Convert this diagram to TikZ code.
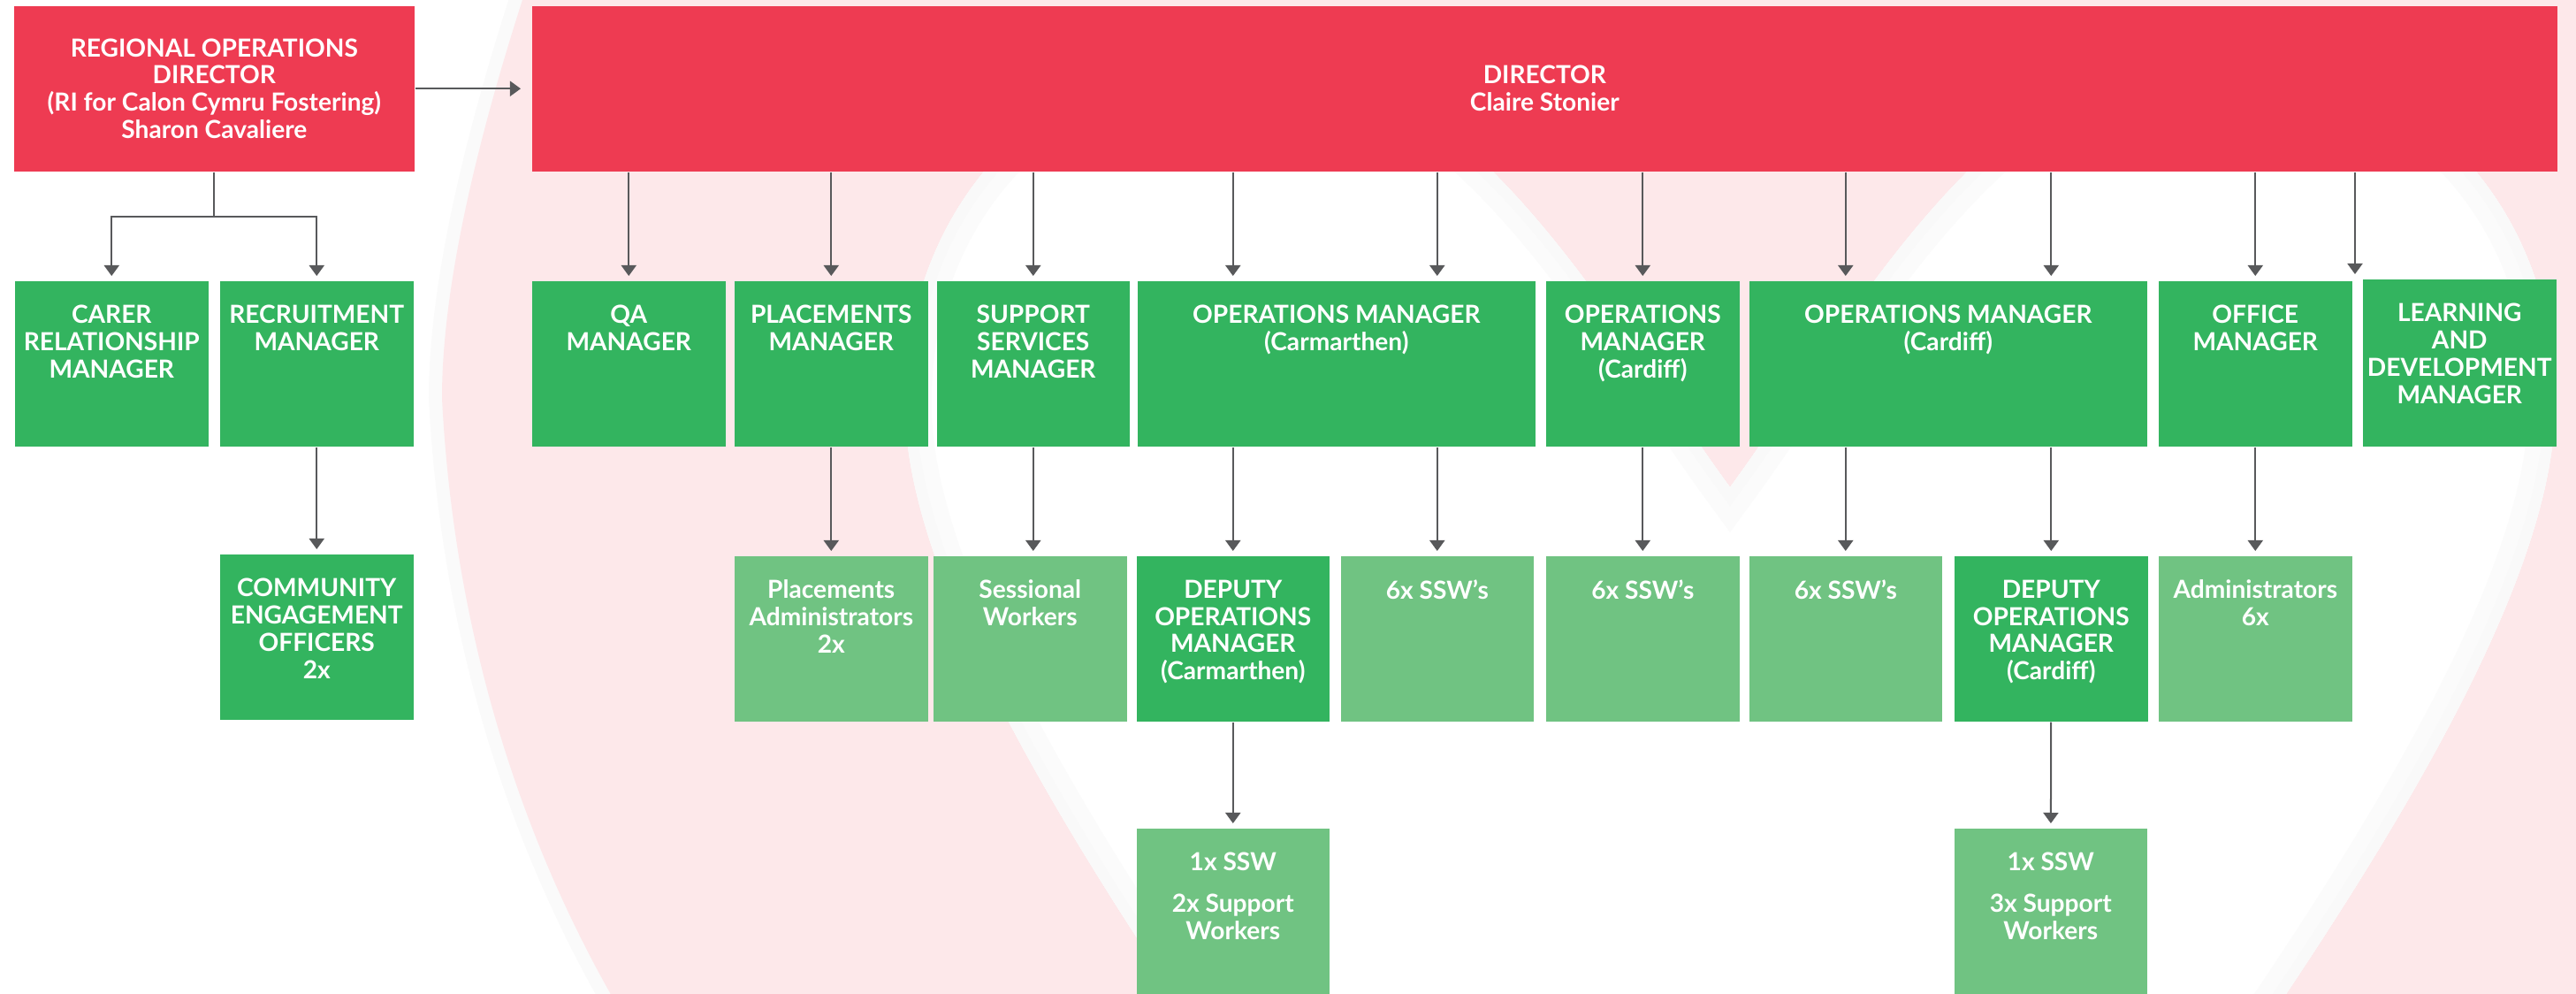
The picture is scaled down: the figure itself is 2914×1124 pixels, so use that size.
\documentclass[tikz,border=0pt]{standalone}
\usepackage{fontspec}
\setmainfont{Lato}
\usetikzlibrary{arrows.meta, positioning}

\definecolor{ccred}{HTML}{EE3B52}
\definecolor{ccgreen}{HTML}{33B45F}
\definecolor{cclight}{HTML}{70C382}
\definecolor{ccpink}{HTML}{FDE8EA}
\definecolor{ccgrey}{HTML}{58595B}

\newcommand{\orgfont}{\fontsize{8}{8.8}\selectfont\bfseries}

\tikzset{
  headbox/.style = {rectangle, fill=ccred, text=white, inner sep=0, anchor=north west,
    minimum height=1.87cm, align=center, font=\orgfont},
  rolebox/.style = {rectangle, fill=ccgreen, inner sep=0, anchor=north west,
    minimum width=2.19cm, minimum height=1.87cm},
  widebox/.style = {rolebox, minimum width=4.50cm},
  staffbox/.style = {rolebox, fill=cclight},
  roletext/.style = {anchor=north, yshift=-0.27cm, align=center, text=white, inner sep=0, font=\orgfont},
  link/.style = {draw=ccgrey, line width=0.02cm},
  conn/.style = {link, -{Triangle[width=0.17cm, length=0.12cm]}, shorten >=0.05cm},
  innerheart/.style = {insert path={(1957,551) .. controls (2090,370) and (2250,60) .. (2500,60)
    .. controls (2750,60) and (2890,250) .. (2890,450) .. controls (2900,800) and (2300,1500) .. (1957,2000)
    .. controls (1614,1500) and (1014,800) .. (1024,450) .. controls (1024,250) and (1164,60) .. (1414,60)
    .. controls (1664,60) and (1824,370) .. (1957,551) -- cycle}},
  outerheart/.style = {insert path={(700,-300) .. controls (600,-50) and (500,250) .. (500,450)
    .. controls (510,650) and (560,900) .. (700,1140) -- (700,1300) -- (3214,1300) -- (3214,1140)
    .. controls (3354,900) and (3404,650) .. (3414,450) .. controls (3414,250) and (3314,-50) .. (3214,-300) -- cycle}}
}

\begin{document}
\begin{tikzpicture}[x=0.01cm, y=-0.01cm]

  \useasboundingbox (0,0) rectangle (2914,1124);

  % Heart in the background
  \begin{scope}
    \clip (0,0) rectangle (2914,1124);
    \draw[black!2, line width=0.3cm] [outerheart];
    \fill[ccpink] [outerheart];
    \fill[white] [innerheart];
    \begin{scope}
      \clip [innerheart];
      \draw[black!1.5, line width=0.6cm] [innerheart];
      \draw[black!2.5, line width=0.25cm] [innerheart];
    \end{scope}
  \end{scope}

  % Directors
  \node[headbox, minimum width=4.53cm] (rod) at (15,6) {REGIONAL OPERATIONS\\DIRECTOR\\(RI for Calon Cymru Fostering)\\Sharon Cavaliere};
  \node[headbox, minimum width=22.90cm] (dir) at (601,6) {DIRECTOR\\Claire Stonier};

  % Managers
  \node[rolebox, label={[roletext]north:{CARER\\RELATIONSHIP\\MANAGER}}] (crm) at (16,317) {};
  \node[rolebox, label={[roletext]north:{RECRUITMENT\\MANAGER}}] (rm) at (248,317) {};
  \node[rolebox, label={[roletext]north:{QA\\MANAGER}}] (qa) at (601,317) {};
  \node[rolebox, label={[roletext]north:{PLACEMENTS\\MANAGER}}] (plm) at (830,317) {};
  \node[rolebox, minimum width=2.18cm, label={[roletext]north:{SUPPORT\\SERVICES\\MANAGER}}] (ssm) at (1059,317) {};
  \node[widebox, label={[roletext]north:{OPERATIONS MANAGER\\(Carmarthen)}}] (opc) at (1286,317) {};
  \node[rolebox, label={[roletext]north:{OPERATIONS\\MANAGER\\(Cardiff)}}] (opd) at (1748,317) {};
  \node[widebox, label={[roletext]north:{OPERATIONS MANAGER\\(Cardiff)}}] (opf) at (1978,317) {};
  \node[rolebox, label={[roletext]north:{OFFICE\\MANAGER}}] (ofm) at (2441,317) {};
  \node[rolebox, minimum height=1.89cm, label={[roletext]north:{LEARNING\\AND\\DEVELOPMENT\\MANAGER}}] (ldm) at (2672,315) {};

  % Teams
  \node[rolebox, label={[roletext]north:{COMMUNITY\\ENGAGEMENT\\OFFICERS\\2x}}] (ceo) at (248,626) {};
  \node[staffbox, label={[roletext]north:{Placements\\Administrators\\2x}}] (pla) at (830,628) {};
  \node[staffbox, label={[roletext]north:{Sessional\\Workers}}] (sew) at (1055,628) {};
  \node[rolebox, minimum width=2.18cm, label={[roletext]north:{DEPUTY\\OPERATIONS\\MANAGER\\(Carmarthen)}}] (dpc) at (1285,628) {};
  \node[staffbox, minimum width=2.18cm, label={[roletext]north:{6x SSW’s}}] (sw1) at (1516,628) {};
  \node[staffbox, label={[roletext]north:{6x SSW’s}}] (sw2) at (1748,628) {};
  \node[staffbox, minimum width=2.18cm, label={[roletext]north:{6x SSW’s}}] (sw3) at (1978,628) {};
  \node[rolebox, label={[roletext]north:{DEPUTY\\OPERATIONS\\MANAGER\\(Cardiff)}}] (dpf) at (2210,628) {};
  \node[staffbox, label={[roletext]north:{Administrators\\6x}}] (adm) at (2441,628) {};

  % Support workers
  \node[staffbox, minimum width=2.18cm, minimum height=2.0cm, label={[roletext]north:{1x SSW\\[0.16cm]2x Support\\Workers}}] (spc) at (1285,936) {};
  \node[staffbox, minimum width=2.18cm, minimum height=2.0cm, label={[roletext]north:{1x SSW\\[0.16cm]3x Support\\Workers}}] (spf) at (2210,936) {};

  % Lines from the regional director
  \draw[conn, shorten >=0.12cm] (rod) -- (dir);
  \coordinate (fork) at ([yshift=-0.5cm]rod.south);
  \draw[link] (rod.south) -- (fork);
  \draw[conn] (fork) -| (crm.north);
  \draw[conn] (fork) -| (rm.north);
  \draw[conn] (rm) -- (ceo);

  % Lines from the director
  \foreach \t in {qa, plm, ssm, dpc, sw1, opd, sw3, dpf, ofm}
    \draw[conn] (dir.south -| \t.north) -- (\t.north |- qa.north);
  \draw[conn] ([xshift=-0.08cm]ldm.north west |- dir.south) -- ([xshift=-0.08cm]ldm.north west);

  % Lines to the teams
  \draw[conn] (plm) -- (pla);
  \draw[conn] (ssm.south) -- (ssm.south |- sew.north);
  \draw[conn] (opc.south -| dpc.north) -- (dpc.north);
  \draw[conn] (opc.south -| sw1.north) -- (sw1.north);
  \draw[conn] (opd) -- (sw2);
  \draw[conn] (opf.south -| sw3.north) -- (sw3.north);
  \draw[conn] (opf.south -| dpf.north) -- (dpf.north);
  \draw[conn] (ofm) -- (adm);
  \draw[conn] (dpc) -- (spc);
  \draw[conn] (dpf) -- (spf);

\end{tikzpicture}
\end{document}
